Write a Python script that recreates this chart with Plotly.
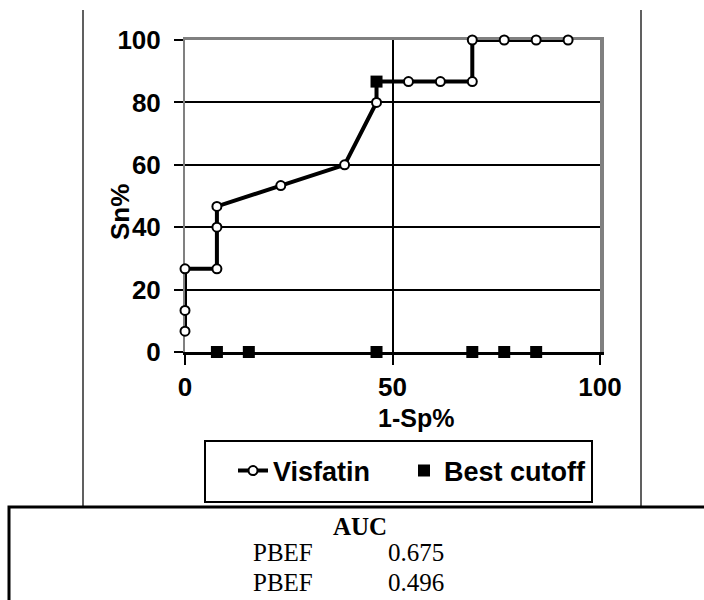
import plotly.graph_objects as go

# ---- data ----
visfatin_x = [0, 0, 0, 7.69, 7.69, 7.69, 23.08, 38.46, 46.15, 46.15, 53.85, 61.54, 69.23, 69.23, 76.92, 84.62, 92.31]
visfatin_y = [6.67, 13.33, 26.67, 26.67, 40, 46.67, 53.33, 60, 80, 86.67, 86.67, 86.67, 86.67, 100, 100, 100, 100]
cutoff_x = [7.69, 15.38, 46.15, 69.23, 76.92, 84.62, 46.15]
cutoff_y = [0, 0, 0, 0, 0, 0, 86.67]
y_ticks = [0, 20, 40, 60, 80, 100]
x_ticks = [0, 50, 100]
auc_labels = ["PBEF", "PBEF"]
auc_values = ["0.675", "0.496"]

W, H = 704, 600
L, R, T, B = 185, 104, 40, 248
PW, PH = W - L - R, H - T - B


def px(x):
    return (x - L) / PW


def py(y):
    return (H - B - y) / PH


SANS = "Arial, Liberation Sans, sans-serif"
SERIF = "Times New Roman, Liberation Serif, serif"

fig = go.Figure()
# empty helper trace so the overlaying top/right frame axes get drawn
fig.add_trace(go.Scatter(x=[], y=[], xaxis="x2", yaxis="y2", showlegend=False, hoverinfo="skip"))
fig.add_trace(go.Scatter(
    x=visfatin_x, y=visfatin_y, mode="lines+markers", name="Visfatin",
    line=dict(color="black", width=4),
    marker=dict(symbol="circle", size=9, color="white", line=dict(color="black", width=2)),
    cliponaxis=False, legend="legend",
))
fig.add_trace(go.Scatter(
    x=cutoff_x, y=cutoff_y, mode="markers", name="Best cutoff",
    marker=dict(symbol="square", size=12, color="black"),
    cliponaxis=False, legend="legend2",
))

shapes = [
    # outer chart frame verticals
    dict(type="line", xref="paper", yref="paper", x0=px(83), x1=px(83), y0=py(10), y1=py(507),
         line=dict(color="#606060", width=2)),
    dict(type="line", xref="paper", yref="paper", x0=px(641), x1=px(641), y0=py(10), y1=py(507),
         line=dict(color="#606060", width=2)),
    # legend box
    dict(type="rect", xref="paper", yref="paper", x0=px(205), x1=px(592), y0=py(502), y1=py(441),
         line=dict(color="black", width=2)),
    # AUC box
    dict(type="rect", xref="paper", yref="paper", x0=px(9), x1=px(720), y0=py(620), y1=py(507),
         line=dict(color="black", width=3)),
]

annotations = [
    dict(text="<b>Sn%</b>", xref="paper", yref="paper", x=px(120), y=py(212), textangle=-90,
         showarrow=False, xanchor="center", yanchor="middle", font=dict(family=SANS, size=26, color="black")),
    dict(text="<b>1-Sp%</b>", xref="paper", yref="paper", x=px(416), y=py(418),
         showarrow=False, xanchor="center", yanchor="middle", font=dict(family=SANS, size=25, color="black")),
    dict(text="<b>AUC</b>", xref="paper", yref="paper", x=px(360), y=py(526),
         showarrow=False, xanchor="center", yanchor="middle", font=dict(family=SERIF, size=25, color="black")),
]
row_y = [552, 582]
for lab, val, yy in zip(auc_labels, auc_values, row_y):
    annotations.append(dict(text=lab, xref="paper", yref="paper", x=px(251), y=py(yy),
                            showarrow=False, xanchor="left", yanchor="middle",
                            font=dict(family=SERIF, size=25, color="black")))
    annotations.append(dict(text=val, xref="paper", yref="paper", x=px(386), y=py(yy),
                            showarrow=False, xanchor="left", yanchor="middle",
                            font=dict(family=SERIF, size=25, color="black")))

tickfont = dict(family=SANS, size=26, color="black", weight="bold")
fig.update_layout(
    width=W, height=H,
    margin=dict(l=L, r=R, t=T, b=B, pad=0),
    paper_bgcolor="white", plot_bgcolor="white",
    showlegend=True,
    legend=dict(x=px(233), y=py(471), xanchor="left", yanchor="middle", orientation="h",
                bgcolor="rgba(0,0,0,0)", borderwidth=0,
                font=dict(family=SANS, size=27, color="black", weight="bold")),
    legend2=dict(x=px(404), y=py(471), xanchor="left", yanchor="middle", orientation="h",
                 bgcolor="rgba(0,0,0,0)", borderwidth=0,
                 font=dict(family=SANS, size=27, color="black", weight="bold")),
    shapes=shapes,
    annotations=annotations,
    xaxis=dict(range=[0, 100], tickvals=x_ticks, ticktext=[str(v) for v in x_ticks],
               showgrid=True, gridcolor="black", gridwidth=2, zeroline=False,
               showline=True, linecolor="black", linewidth=3,
               ticks="outside", ticklen=10, tickwidth=2, tickcolor="black",
               ticklabelstandoff=0, tickfont=tickfont,
               fixedrange=True, layer="below traces"),
    xaxis2=dict(range=[0, 100], overlaying="x", side="top", anchor="y2",
                showgrid=False, zeroline=False, showticklabels=False, ticks="",
                showline=True, linecolor="#808080", linewidth=3,
                fixedrange=True, layer="below traces"),
    yaxis=dict(range=[0, 100], tickvals=y_ticks, ticktext=[str(v) for v in y_ticks],
               showgrid=True, gridcolor="black", gridwidth=2, zeroline=False,
               showline=True, linecolor="#808080", linewidth=2,
               ticks="outside", ticklen=9, tickwidth=2, tickcolor="black",
               ticklabelstandoff=8, tickfont=tickfont,
               fixedrange=True, layer="below traces"),
    yaxis2=dict(range=[0, 100], overlaying="y", side="right", anchor="x2",
                showgrid=False, zeroline=False, showticklabels=False, ticks="",
                showline=True, linecolor="#808080", linewidth=4,
                fixedrange=True, layer="below traces"),
)

fig.write_html("out.html")
